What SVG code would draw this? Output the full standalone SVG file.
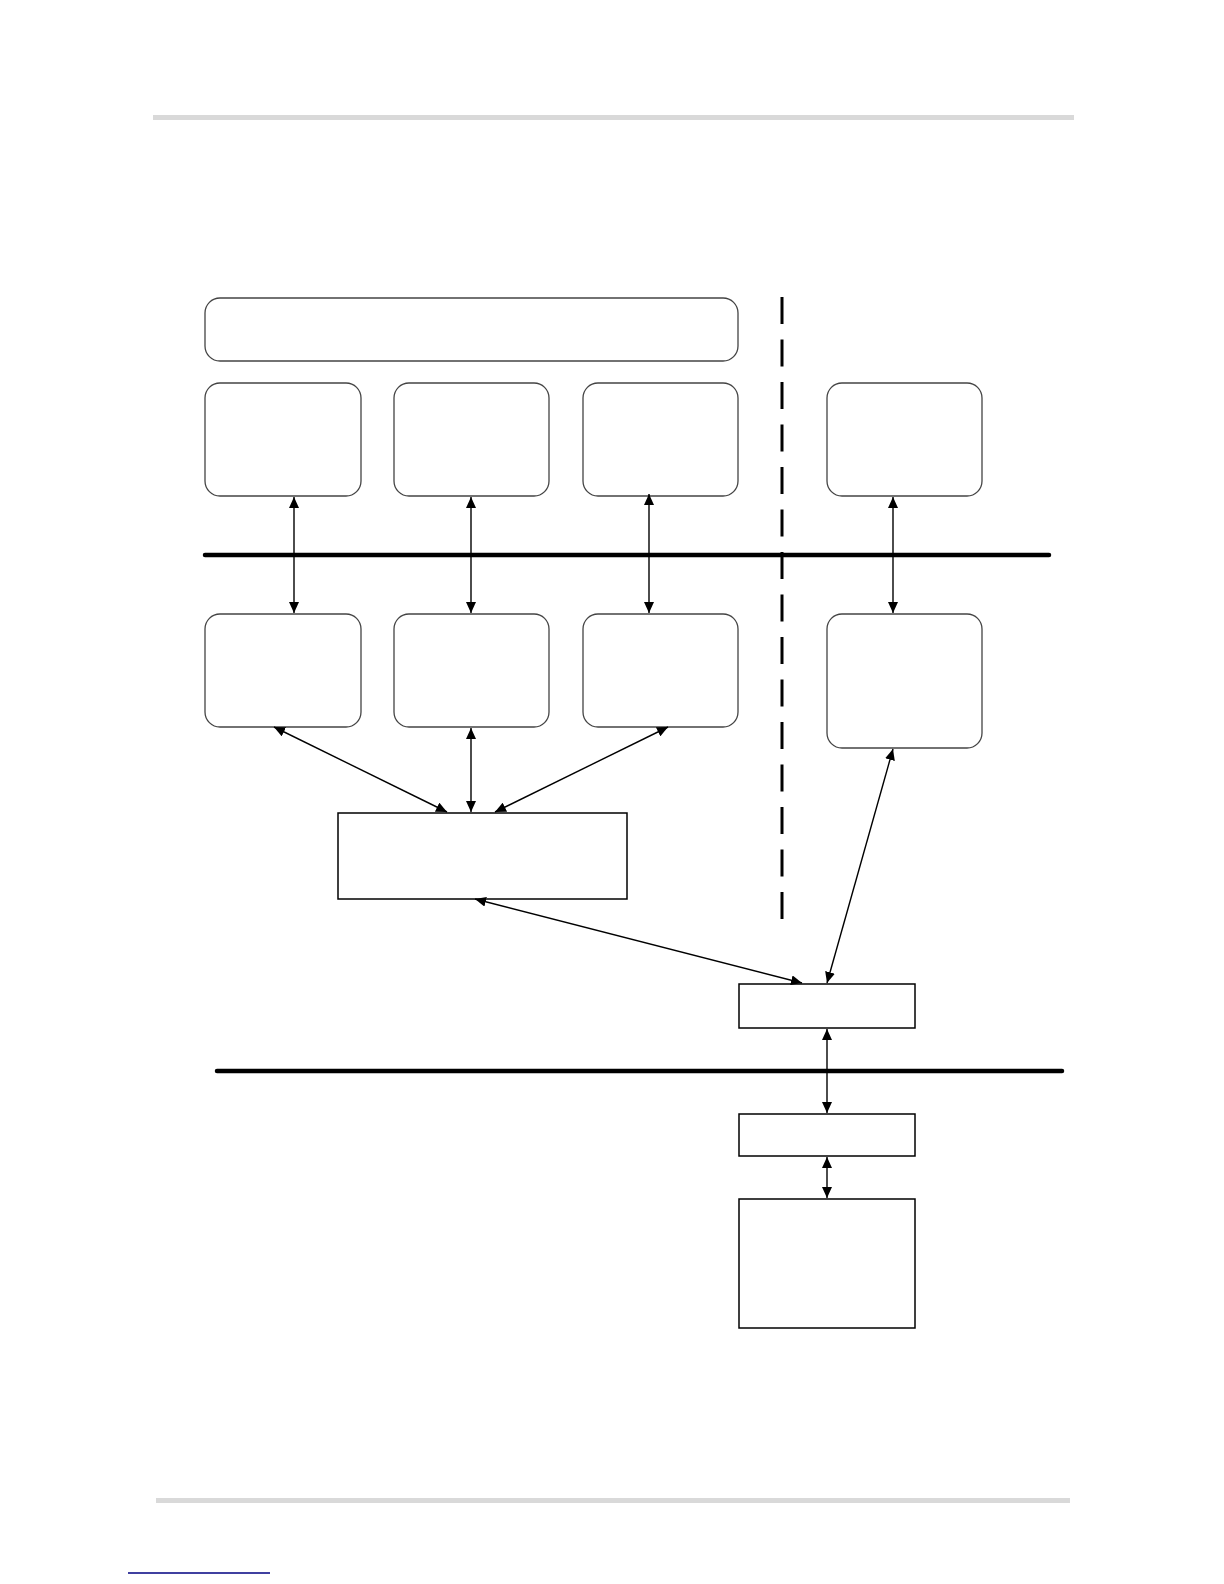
<svg xmlns="http://www.w3.org/2000/svg" width="1224" height="1584" viewBox="0 0 1224 1584">
<style>
.rb{fill:#fff;stroke:#444;stroke-width:1.3}
.sq{fill:#fff;stroke:#000;stroke-width:1.5}
.c{stroke:#000;stroke-width:1.4;fill:none;marker-start:url(#ah);marker-end:url(#ah)}
.bus{stroke:#000;stroke-width:4.5;stroke-linecap:round}
.bar{fill:#d9d9d9}
</style>
<defs>
<marker id="ah" viewBox="0 0 11 10" refX="11" refY="5" markerWidth="11" markerHeight="10" markerUnits="userSpaceOnUse" orient="auto-start-reverse">
<path d="M0,0 L11,5 L0,10 Z" fill="#000"/>
</marker>
</defs>
<rect class="bar" x="153" y="115" width="921" height="5"/>
<rect class="bar" x="156" y="1498" width="914" height="5"/>
<line x1="128" y1="1573" x2="270" y2="1573" stroke="#000080" stroke-width="1.5"/>
<g id="buses">
<line class="bus" x1="205" y1="555" x2="1049" y2="555"/>
<line class="bus" x1="217" y1="1071" x2="1062" y2="1071"/>
<line x1="782" y1="297" x2="782" y2="921" stroke="#000" stroke-width="3" stroke-dasharray="27 15.5"/>
</g>
<g id="top"><rect class="rb" x="205" y="298" width="533" height="63" rx="15"/></g>
<g id="a1"><rect class="rb" x="205" y="383" width="156" height="113" rx="15"/></g>
<g id="b1"><rect class="rb" x="394" y="383" width="155" height="113" rx="15"/></g>
<g id="c1"><rect class="rb" x="583" y="383" width="155" height="113" rx="15"/></g>
<g id="d1"><rect class="rb" x="827" y="383" width="155" height="113" rx="15"/></g>
<g id="a2"><rect class="rb" x="205" y="614" width="156" height="113" rx="15"/></g>
<g id="b2"><rect class="rb" x="394" y="614" width="155" height="113" rx="15"/></g>
<g id="c2"><rect class="rb" x="583" y="614" width="155" height="113" rx="15"/></g>
<g id="d2"><rect class="rb" x="827" y="614" width="155" height="134" rx="15"/></g>
<g id="center"><rect class="sq" x="338" y="813" width="289" height="86"/></g>
<g id="s1"><rect class="sq" x="739" y="984" width="176" height="44"/></g>
<g id="s2"><rect class="sq" x="739" y="1114" width="176" height="42"/></g>
<g id="s3"><rect class="sq" x="739" y="1199" width="176" height="129"/></g>
<g id="connectors">
<line class="c" x1="294" y1="497" x2="294" y2="613"/>
<line class="c" x1="471" y1="497" x2="471" y2="613"/>
<line class="c" x1="649" y1="494" x2="649" y2="613"/>
<line class="c" x1="893" y1="497" x2="893" y2="613"/>
<line class="c" x1="274" y1="727" x2="447" y2="812"/>
<line class="c" x1="471" y1="728" x2="471" y2="812"/>
<line class="c" x1="668" y1="727" x2="495" y2="812"/>
<line class="c" x1="475" y1="899" x2="802" y2="983"/>
<line class="c" x1="893" y1="749" x2="827" y2="983"/>
<line class="c" x1="827" y1="1029" x2="827" y2="1113"/>
<line class="c" x1="827" y1="1157" x2="827" y2="1198"/>
</g>
</svg>
